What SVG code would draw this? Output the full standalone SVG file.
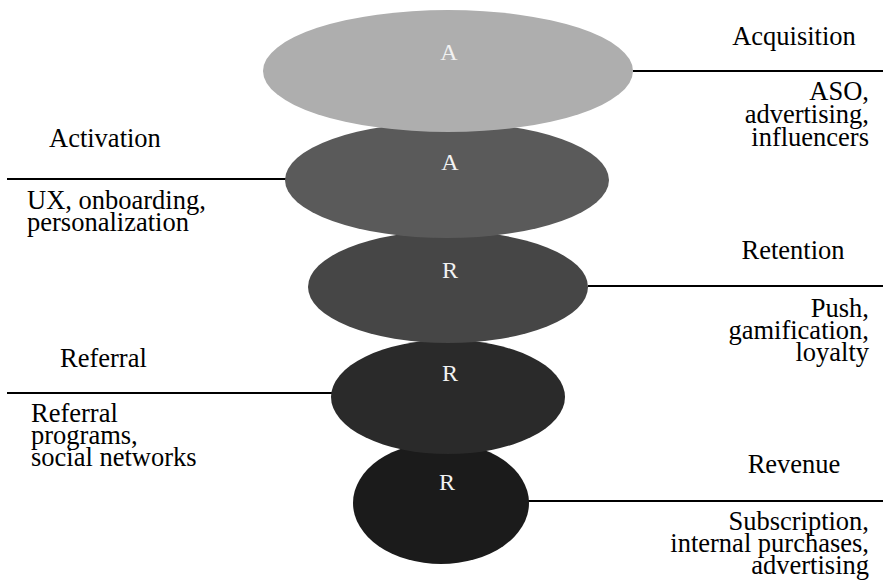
<svg xmlns="http://www.w3.org/2000/svg" width="883" height="582" viewBox="0 0 883 582">
  <style>
    text { font-family: "Liberation Serif", "Times New Roman", Times, serif; font-size: 26.5px; fill: #000; }
    .letter { fill: #f2f2f2; text-anchor: middle; font-size: 24px; }
    .end { text-anchor: end; }
    .mid { text-anchor: middle; }
    .rule { stroke: #000; stroke-width: 2; fill: none; }
  </style>
  <rect width="883" height="582" fill="#fff"/>
  <!-- connectors: horizontal rules from each stage out to its label -->
  <g id="connectors">
    <line class="rule" x1="633" y1="71" x2="883" y2="71"/>
    <line class="rule" x1="7" y1="179" x2="287" y2="179"/>
    <line class="rule" x1="588" y1="286" x2="883" y2="286"/>
    <line class="rule" x1="7" y1="393" x2="333" y2="393"/>
    <line class="rule" x1="528" y1="501" x2="883" y2="501"/>
  </g>
  <!-- stages, drawn from the bottom up so each upper ellipse overlaps the one below -->
  <g id="revenue">
    <ellipse cx="441" cy="503" rx="88" ry="61" fill="#1b1b1b"/>
    <text class="letter" x="447" y="490">R</text>
    <text class="mid" x="794" y="473">Revenue</text>
    <text class="end" x="869" y="530">Subscription,</text>
    <text class="end" x="869" y="552">internal purchases,</text>
    <text class="end" x="869" y="574">advertising</text>
  </g>
  <g id="referral">
    <ellipse cx="448" cy="397" rx="117" ry="57" fill="#2a2a2a"/>
    <text class="letter" x="450" y="381">R</text>
    <text x="60" y="367">Referral</text>
    <text x="31" y="422">Referral</text>
    <text x="31" y="444">programs,</text>
    <text x="31" y="466">social networks</text>
  </g>
  <g id="retention">
    <ellipse cx="448" cy="287" rx="140" ry="56" fill="#464646"/>
    <text class="letter" x="450" y="278">R</text>
    <text class="mid" x="793" y="259">Retention</text>
    <text class="end" x="869" y="317">Push,</text>
    <text class="end" x="869" y="339">gamification,</text>
    <text class="end" x="869" y="361">loyalty</text>
  </g>
  <g id="activation">
    <ellipse cx="447" cy="180" rx="162" ry="58" fill="#5a5a5a"/>
    <text class="letter" x="450" y="170">A</text>
    <text x="49" y="147">Activation</text>
    <text x="27" y="209">UX, onboarding,</text>
    <text x="27" y="231">personalization</text>
  </g>
  <g id="acquisition">
    <ellipse cx="448" cy="71" rx="185" ry="61" fill="#aeaeae"/>
    <text class="letter" x="449" y="60">A</text>
    <text class="mid" x="794" y="45">Acquisition</text>
    <text class="end" x="869" y="100">ASO,</text>
    <text class="end" x="869" y="123">advertising,</text>
    <text class="end" x="869" y="146">influencers</text>
  </g>
</svg>
